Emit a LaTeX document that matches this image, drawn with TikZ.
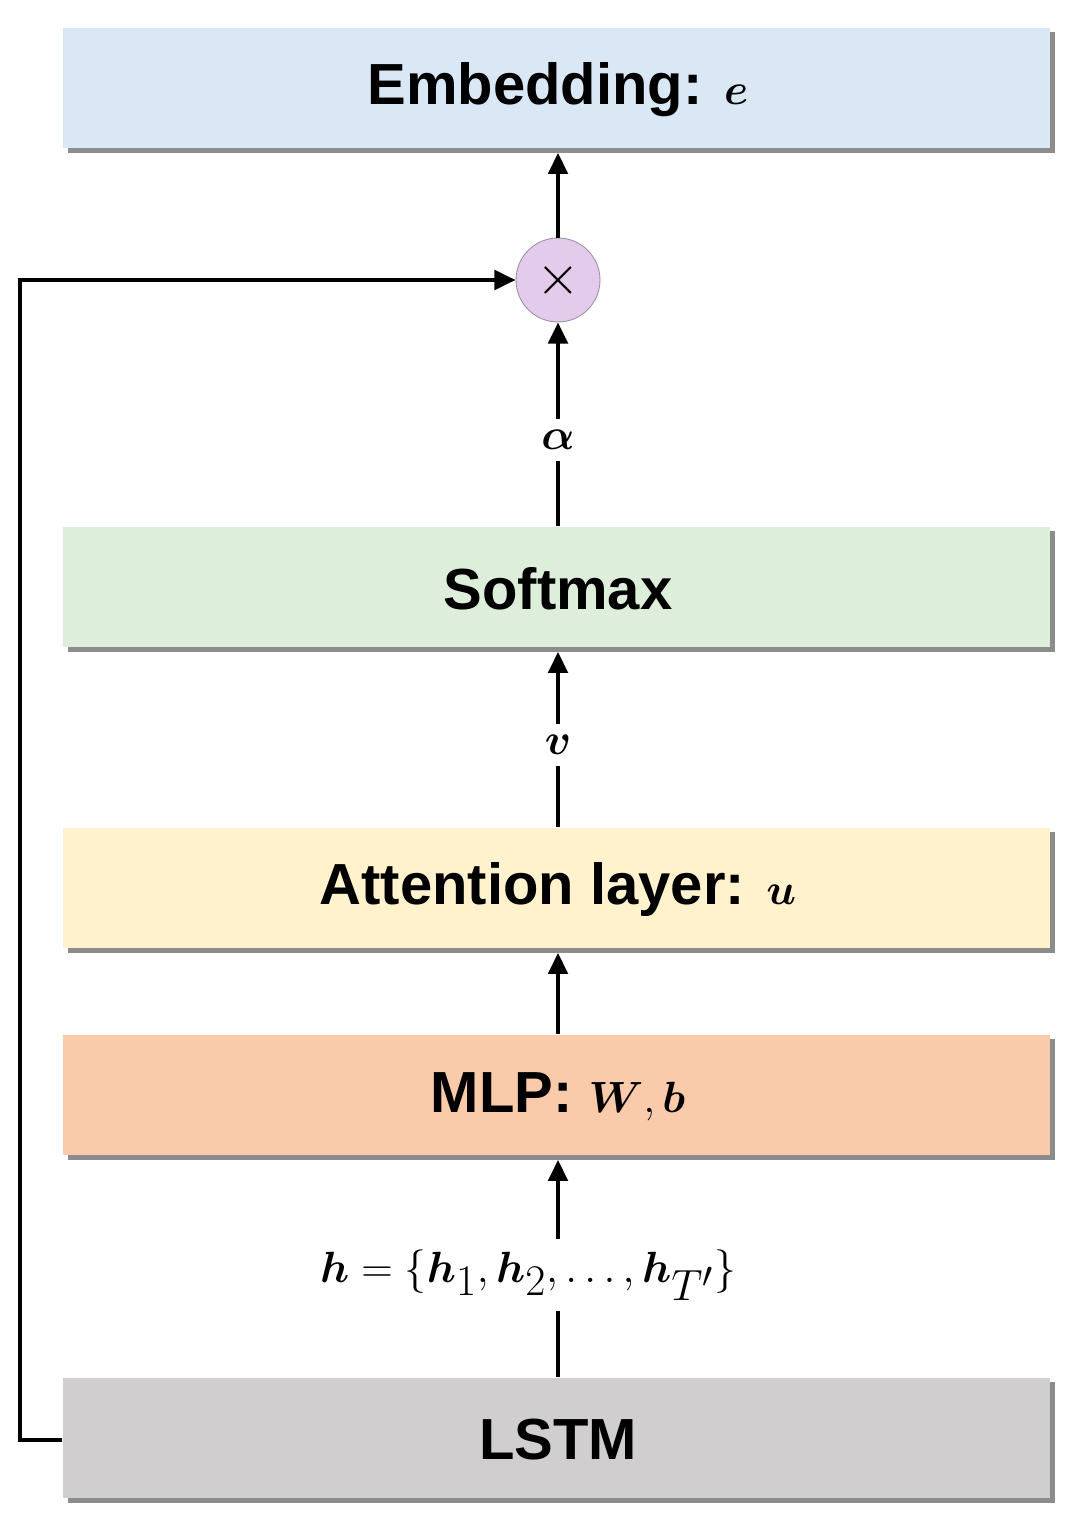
\documentclass[tikz,border=0pt]{standalone}
\usepackage{fontspec}
\usepackage{amsmath,bm}
\setmainfont{Liberation Sans}
\usetikzlibrary{arrows.meta}
\definecolor{cblue}{HTML}{DAE8F5}
\definecolor{cgreen}{HTML}{DDEFDB}
\definecolor{cyellow}{HTML}{FFF2CC}
\definecolor{corange}{HTML}{F9CBAA}
\definecolor{cgray}{HTML}{D0CECE}
\definecolor{cpurple}{HTML}{E3CBEC}
\begin{document}
\begin{tikzpicture}[x=0.02cm,y=-0.02cm,
  box/.style={minimum width=19.84cm,minimum height=2.5cm,inner sep=0,font=\fontsize{33}{33}\selectfont\bfseries},
  arr/.style={line width=2.3pt,-{Triangle[length=12pt,width=11pt]}},
  ln/.style={line width=2.3pt},
  lab/.style={fill=white,inner sep=6pt,font=\fontsize{36}{36}\selectfont}]
\useasboundingbox (0,0) rectangle (1078,1527);
\foreach \yy/\cc in {90/cblue,589/cgreen,890/cyellow,1097/corange,1440/cgray}{
  \fill[black!45] (68,\yy-62+4) rectangle (1055,\yy+63);
  \fill[\cc] (63,\yy-62) rectangle (1050,\yy+58);
}
\node[box] (emb) at (558,90) {Embedding: $\bm{e}$};
\node[box] (soft) at (558,589) {Softmax};
\node[box] (att) at (558,890) {Attention layer: $\bm{u}$};
\node[box] (mlp) at (558,1097) {MLP: $\bm{W},\bm{b}$};
\node[box] (lstm) at (558,1440) {LSTM};
\node[circle,fill=cpurple,draw=cpurple!70!black,line width=0.5pt,minimum size=1.68cm,inner sep=0] (mul) at (558,280) {\scalebox{3.2}{$\times$}};
\node[lab] (alpha) at (558,440) {$\bm{\alpha}$};
\node[lab] (v) at (558,745) {$\bm{v}$};
\node[lab,font=\fontsize{41}{41}\selectfont] (h) at (528,1275) {$\bm{h}=\{\bm{h}_1,\bm{h}_2,\dots,\bm{h}_{T'}\}$};
\coordinate (c1) at (20,1440);
\coordinate (c2) at (20,280);
\draw[arr] (mul) -- (emb.south);
\draw[ln] (soft.north) -- (alpha);
\draw[arr] (alpha) -- (mul);
\draw[ln] (att.north) -- (v);
\draw[arr] (v) -- (soft.south);
\draw[arr] (mlp.north) -- (att.south);
\draw[ln] (lstm.north) -- (h.south -| lstm.north);
\draw[arr] (h.north -| mlp.south) -- (mlp.south);
\draw[arr] (lstm.west) -- (c1) -- (c2) -- (mul.west);
\end{tikzpicture}
\end{document}
